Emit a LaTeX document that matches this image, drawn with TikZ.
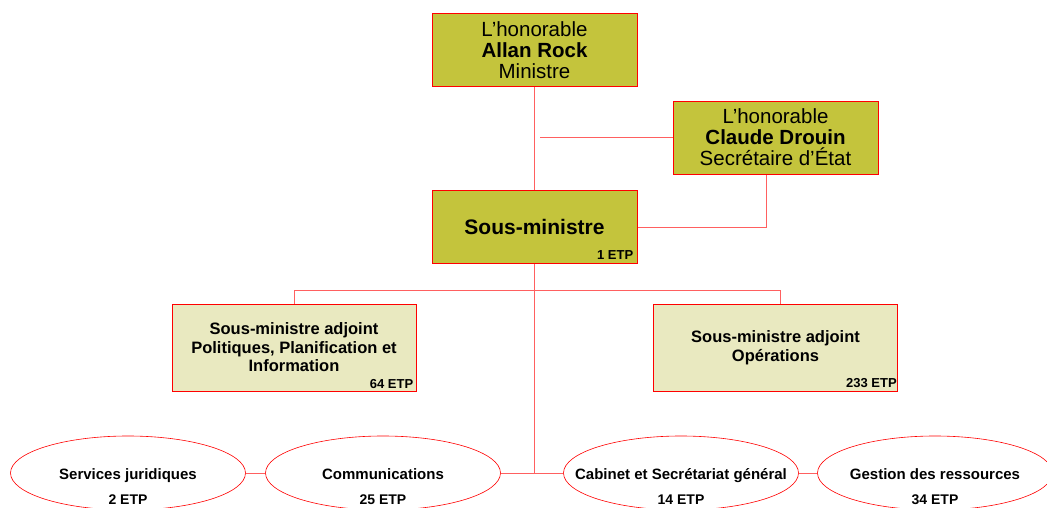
\documentclass[tikz,border=0pt]{standalone}
\usepackage{fontspec}
\setmainfont{Liberation Sans}
\usetikzlibrary{positioning,shapes.geometric}

\definecolor{chefcol}{RGB}{196,196,60}
\definecolor{adjcol}{RGB}{233,233,192}
\definecolor{lienrouge}{RGB}{255,96,96}

\tikzset{
  chef/.style={draw=red,fill=chefcol,rectangle,line width=0.8pt,minimum width=205pt,minimum height=73pt,align=center,font=\fontsize{20.5}{21}\selectfont},
  adjoint/.style={draw=red,fill=adjcol,rectangle,line width=0.8pt,minimum width=244pt,minimum height=87pt,align=center,font=\fontsize{16.5}{18.5}\selectfont\bfseries},
  unite/.style={draw=red,ellipse,line width=0.6pt,minimum width=235pt,minimum height=74pt,inner sep=0pt,text height=13pt,text depth=0pt,font=\fontsize{15}{17}\selectfont\bfseries},
  etp/.style={font=\fontsize{13}{15}\selectfont\bfseries,inner sep=3pt},
  unite etp/.style={etp,font=\fontsize{14}{16}\selectfont\bfseries,label distance=-19pt},
  lien/.style={draw=lienrouge,line width=0.8pt}
}
\newcommand{\nomunite}[1]{\makebox[0pt]{#1}}

\begin{document}
\begin{tikzpicture}[x=1pt,y=-1pt]
\useasboundingbox (0,0) rectangle (1047,508);

% connecteurs
\coordinate (cab-haut) at (534.5,473);
\draw[lien] (534.5,86) -- (cab-haut);
\draw[lien] (540,137.5) -- (673,137.5);
\draw[lien] (766,174) -- (766,227) -- (637,227);
\draw[lien] (294,304) -- (294,290) -- (780,290) -- (780,304);

% cadres
\node[chef] (ministre) at (534.5,50) {L'honorable\\\textbf{Allan Rock}\\Ministre};
\node[chef] (drouin) at (775.5,137.5) {L'honorable\\\textbf{Claude Drouin}\\Secrétaire d'État};
\node[chef,font=\fontsize{21}{22}\selectfont\bfseries] (sm) at (534.5,227) {Sous-ministre};
\node[etp,anchor=south east,inner sep=4pt] (sm-etp) at (sm.south east) {1 ETP};

\node[adjoint] (sma1) at (294,347.5) {Sous-ministre adjoint\\Politiques, Planification et\\Information};
\node[etp,anchor=south east] (sma1-etp) at (sma1.south east) {64 ETP};
\node[adjoint] (sma2) at (775.5,347.5) {Sous-ministre adjoint\\Opérations};
\node[etp,anchor=south east,inner sep=1pt] (sma2-etp) at ([yshift=3pt]sma2.south east) {233 ETP};

% unites
\node[unite,label={[unite etp]below:2 ETP}] (jur) at (128,473) {\nomunite{Services juridiques}};
\node[unite,label={[unite etp]below:25 ETP}] (comm) at (383,473) {\nomunite{Communications}};
\node[unite,label={[unite etp]below:14 ETP}] (cab) at (681,473) {\nomunite{Cabinet et Secrétariat général}};
\node[unite,label={[unite etp]below:34 ETP}] (gest) at (935,473) {\nomunite{Gestion des ressources}};

\draw[lien] (jur.east) -- (comm.west);
\draw[lien] (comm.east) -- (cab.west);
\draw[lien] (cab.east) -- (gest.west);

\end{tikzpicture}
\end{document}
